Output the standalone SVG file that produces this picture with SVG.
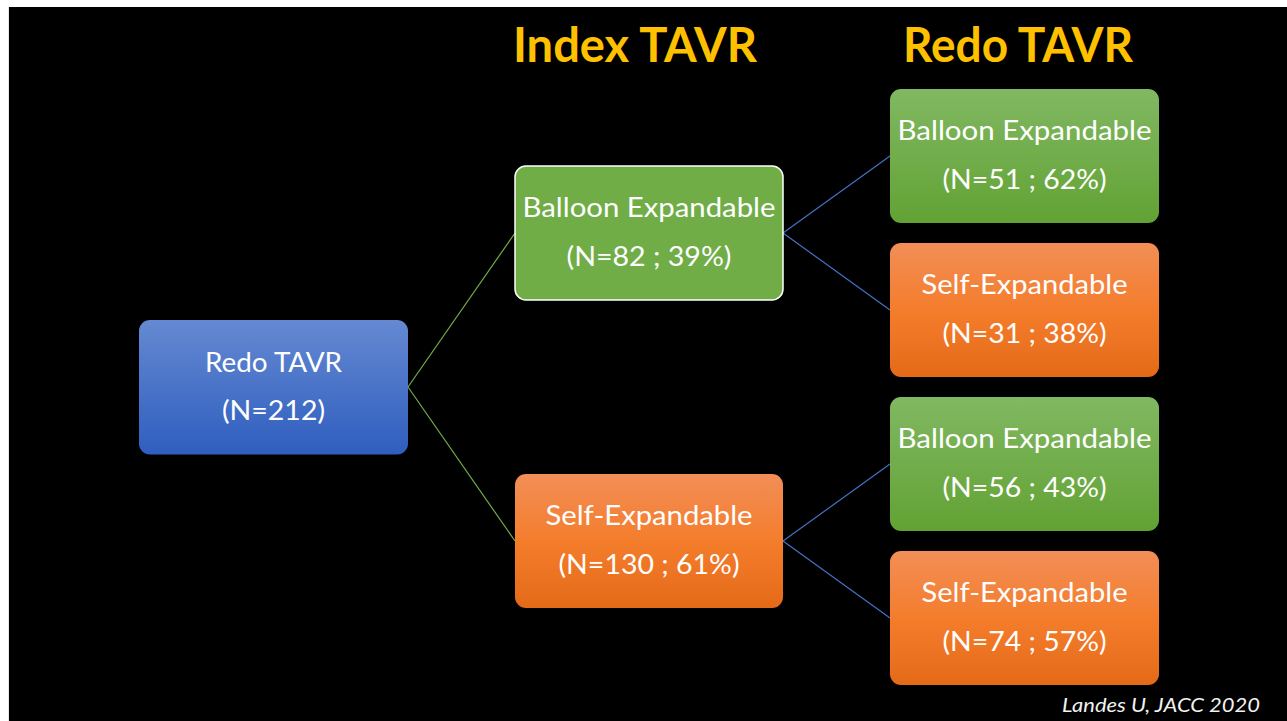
<svg xmlns="http://www.w3.org/2000/svg" width="1287" height="721" viewBox="0 0 1287 721">
<defs>
<linearGradient id="gBlue" x1="0" y1="0" x2="0" y2="1"><stop offset="0" stop-color="#6589D2"/><stop offset="1" stop-color="#2F5EBF"/></linearGradient>
<linearGradient id="gGreen" x1="0" y1="0" x2="0" y2="1"><stop offset="0" stop-color="#81B862"/><stop offset="1" stop-color="#62A234"/></linearGradient>
<linearGradient id="gOrange" x1="0" y1="0" x2="0" y2="1"><stop offset="0" stop-color="#F28E57"/><stop offset="0.5" stop-color="#F47D2C"/><stop offset="1" stop-color="#E46A17"/></linearGradient>
<style>
.lbl{font-family:Lato,"Open Sans","Liberation Sans",sans-serif;font-size:26px;fill:#FFFFFF;text-anchor:middle}
.ttl{font-family:Lato,"Open Sans","Liberation Sans",sans-serif;font-size:48px;font-weight:bold;fill:#FFC000;text-anchor:middle}
.foot{font-family:Lato,"Open Sans","Liberation Sans",sans-serif;font-size:18.5px;font-style:italic;fill:#F2F2F2}
.g{stroke:#70AD47;stroke-width:1.2;fill:none}
.b{stroke:#4472C4;stroke-width:1.2;fill:none}
</style>
</defs>
<rect x="0" y="0" width="1287" height="721" fill="#FFFFFF"/>
<rect x="8" y="7" width="1279" height="714" fill="#E6E6E6"/>
<rect x="9" y="7" width="1278" height="714" fill="#000000"/>

<g id="titles">
<text class="ttl" x="635" y="62" textLength="244" lengthAdjust="spacingAndGlyphs">Index TAVR</text>
<text class="ttl" x="1018" y="62" textLength="230" lengthAdjust="spacingAndGlyphs">Redo TAVR</text>
</g>

<g id="connectors">
<line class="g" x1="408" y1="387" x2="515" y2="233"/>
<line class="g" x1="408" y1="387" x2="515" y2="541"/>
<line class="b" x1="783" y1="233" x2="890" y2="156"/>
<line class="b" x1="783" y1="233" x2="890" y2="310"/>
<line class="b" x1="783" y1="541" x2="890" y2="464"/>
<line class="b" x1="783" y1="541" x2="890" y2="618"/>
</g>

<g id="root">
<rect x="139" y="320" width="269" height="134.5" rx="11" fill="url(#gBlue)"/>
<text class="lbl" x="273.5" y="372" textLength="137" lengthAdjust="spacingAndGlyphs">Redo TAVR</text>
<text class="lbl" x="273.5" y="420" textLength="103" lengthAdjust="spacingAndGlyphs">(N=212)</text>
</g>

<g id="index-be">
<rect x="515" y="166" width="268" height="134" rx="11" fill="#70AD47" stroke="#FFFFFF" stroke-width="1.5"/>
<text class="lbl" x="649" y="217" textLength="253" lengthAdjust="spacingAndGlyphs">Balloon Expandable</text>
<text class="lbl" x="649" y="266" textLength="165" lengthAdjust="spacingAndGlyphs">(N=82 ; 39%)</text>
</g>

<g id="index-se">
<rect x="515" y="474" width="268" height="134" rx="11" fill="url(#gOrange)"/>
<text class="lbl" x="649" y="525" textLength="207" lengthAdjust="spacingAndGlyphs">Self-Expandable</text>
<text class="lbl" x="649" y="574" textLength="181" lengthAdjust="spacingAndGlyphs">(N=130 ; 61%)</text>
</g>

<g id="redo-be-1">
<rect x="890" y="89" width="269" height="134" rx="11" fill="url(#gGreen)"/>
<text class="lbl" x="1024.5" y="140" textLength="254" lengthAdjust="spacingAndGlyphs">Balloon Expandable</text>
<text class="lbl" x="1024.5" y="189" textLength="164" lengthAdjust="spacingAndGlyphs">(N=51 ; 62%)</text>
</g>

<g id="redo-se-1">
<rect x="890" y="243" width="269" height="134" rx="11" fill="url(#gOrange)"/>
<text class="lbl" x="1024.5" y="294" textLength="206" lengthAdjust="spacingAndGlyphs">Self-Expandable</text>
<text class="lbl" x="1024.5" y="343" textLength="164" lengthAdjust="spacingAndGlyphs">(N=31 ; 38%)</text>
</g>

<g id="redo-be-2">
<rect x="890" y="397" width="269" height="134" rx="11" fill="url(#gGreen)"/>
<text class="lbl" x="1024.5" y="448" textLength="254" lengthAdjust="spacingAndGlyphs">Balloon Expandable</text>
<text class="lbl" x="1024.5" y="497" textLength="164" lengthAdjust="spacingAndGlyphs">(N=56 ; 43%)</text>
</g>

<g id="redo-se-2">
<rect x="890" y="551" width="269" height="134" rx="11" fill="url(#gOrange)"/>
<text class="lbl" x="1024.5" y="602" textLength="206" lengthAdjust="spacingAndGlyphs">Self-Expandable</text>
<text class="lbl" x="1024.5" y="651" textLength="164" lengthAdjust="spacingAndGlyphs">(N=74 ; 57%)</text>
</g>

<g id="footer">
<text class="foot" x="1062" y="712" textLength="198" lengthAdjust="spacingAndGlyphs">Landes U, JACC 2020</text>
</g>
</svg>
